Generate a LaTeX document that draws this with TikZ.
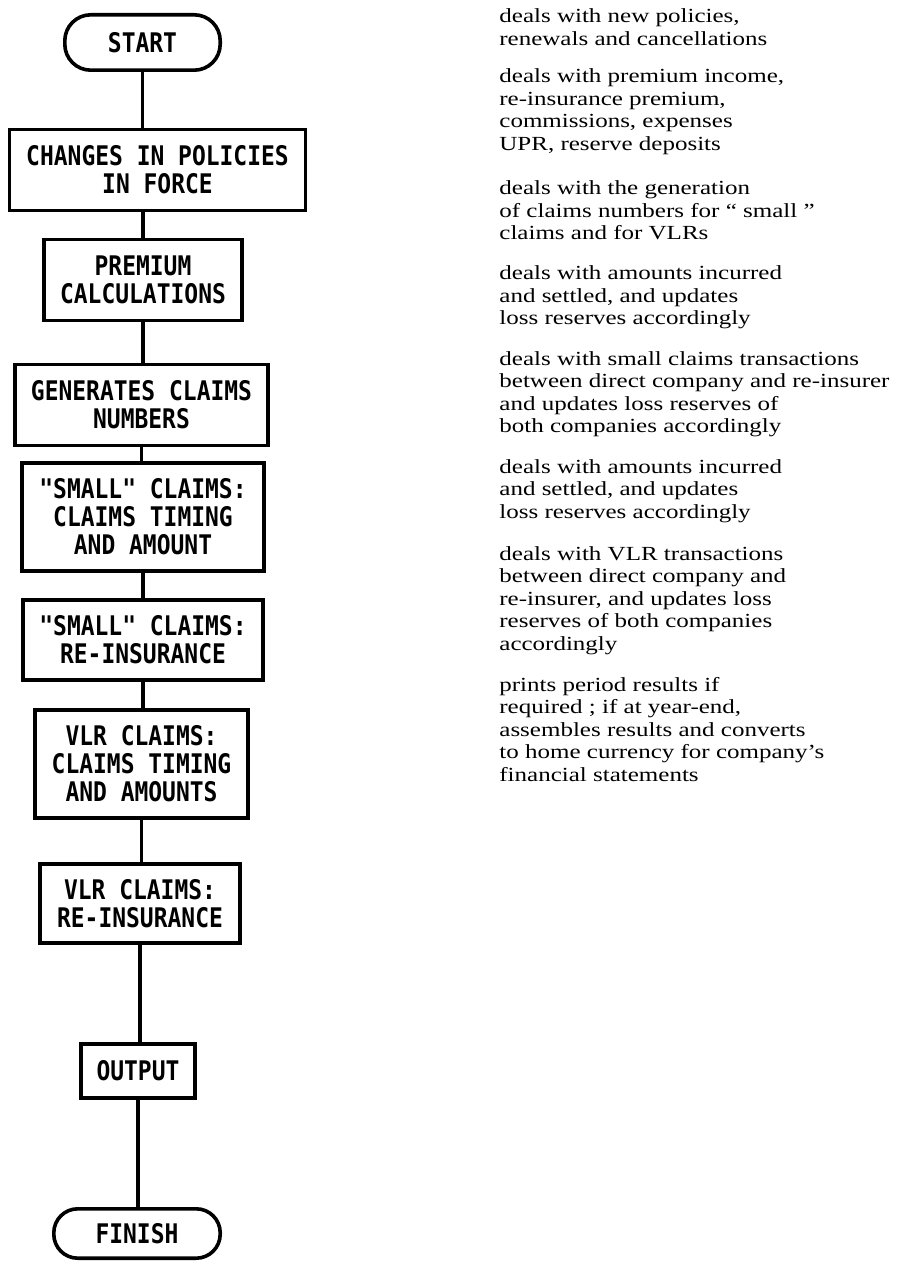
\documentclass[tikz,border=0pt]{standalone}
\usepackage{fontspec}
\newfontfamily\boxfont[FakeStretch=0.85]{DejaVu Sans Mono}
\newfontfamily\notefont[FakeStretch=1.25]{Liberation Serif}
\begin{document}
\begin{tikzpicture}[x=0.5pt,y=-0.5pt,
  blk/.style={draw=black, line width=1.8pt, inner sep=0pt, align=center,
    font=\boxfont\bfseries\fontsize{13.5}{14}\selectfont},
  term/.style={blk, rounded corners=13pt},
  conn/.style={line width=1.8pt},
  note/.style={anchor=base west, inner sep=0pt,
    font=\notefont\fontsize{10}{11.25}\selectfont}]
\useasboundingbox (0,0) rectangle (900,1262);

\node[term, minimum width=77.7pt, minimum height=27.7pt] (start) at (142.5,42.5) {START};
\node[blk, minimum width=148pt, minimum height=40.5pt] (changes) at (157.5,170) {CHANGES IN POLICIES\\IN FORCE};
\node[blk, minimum width=99pt, minimum height=40.5pt] (premium) at (143,280) {PREMIUM\\CALCULATIONS};
\node[blk, minimum width=126.7pt, minimum height=40.5pt] (generates) at (141.5,405) {GENERATES CLAIMS\\NUMBERS};
\node[blk, minimum width=121.2pt, minimum height=54.2pt] (smallt) at (143,517) {"SMALL" CLAIMS:\\CLAIMS TIMING\\AND AMOUNT};
\node[blk, minimum width=120.2pt, minimum height=40.2pt] (smallr) at (143,640) {"SMALL" CLAIMS:\\RE-INSURANCE};
\node[blk, minimum width=106.7pt, minimum height=54.2pt] (vlrt) at (141.5,764) {VLR CLAIMS:\\CLAIMS TIMING\\AND AMOUNTS};
\node[blk, minimum width=100.2pt, minimum height=39.7pt] (vlrr) at (140,903.5) {VLR CLAIMS:\\RE-INSURANCE};
\node[blk, minimum width=57.2pt, minimum height=27.2pt] (output) at (138,1071) {OUTPUT};
\node[term, rounded corners=12pt, minimum width=83.2pt, minimum height=24.7pt] (finish) at (137,1233.5) {FINISH};

\draw[conn] (start.south) -- (start.south |- changes.north);
\draw[conn] (premium.north |- changes.south) -- (premium.north);
\draw[conn] (premium.south) -- (premium.south |- generates.north);
\draw[conn] (generates.south) -- (generates.south |- smallt.north);
\draw[conn] (smallt.south) -- (smallt.south |- smallr.north);
\draw[conn] (smallr.south) -- (smallr.south |- vlrt.north);
\draw[conn] (vlrt.south) -- (vlrt.south |- vlrr.north);
\draw[conn] (vlrr.south) -- (vlrr.south |- output.north);
\draw[conn] (output.south) -- (output.south |- finish.north);

\node[note] (n1) at (499,23) {\begin{tabular}[t]{@{}l@{}}deals with new policies,\\renewals and cancellations\end{tabular}};
\node[note] (n2) at (499,83) {\begin{tabular}[t]{@{}l@{}}deals with premium income,\\re-insurance premium,\\commissions, expenses\\UPR, reserve deposits\end{tabular}};
\node[note] (n3) at (499,195) {\begin{tabular}[t]{@{}l@{}}deals with the generation\\of claims numbers for “ small ”\\claims and for VLRs\end{tabular}};
\node[note] (n4) at (499,280) {\begin{tabular}[t]{@{}l@{}}deals with amounts incurred\\and settled, and updates\\loss reserves accordingly\end{tabular}};
\node[note] (n5) at (499,365) {\begin{tabular}[t]{@{}l@{}}deals with small claims transactions\\between direct company and re-insurer\\and updates loss reserves of\\both companies accordingly\end{tabular}};
\node[note] (n6) at (499,473) {\begin{tabular}[t]{@{}l@{}}deals with amounts incurred\\and settled, and updates\\loss reserves accordingly\end{tabular}};
\node[note] (n7) at (499,560) {\begin{tabular}[t]{@{}l@{}}deals with VLR transactions\\between direct company and\\re-insurer, and updates loss\\reserves of both companies\\accordingly\end{tabular}};
\node[note] (n8) at (499,691) {\begin{tabular}[t]{@{}l@{}}prints period results if\\required ; if at year-end,\\assembles results and converts\\to home currency for company’s\\financial statements\end{tabular}};
\end{tikzpicture}
\end{document}
